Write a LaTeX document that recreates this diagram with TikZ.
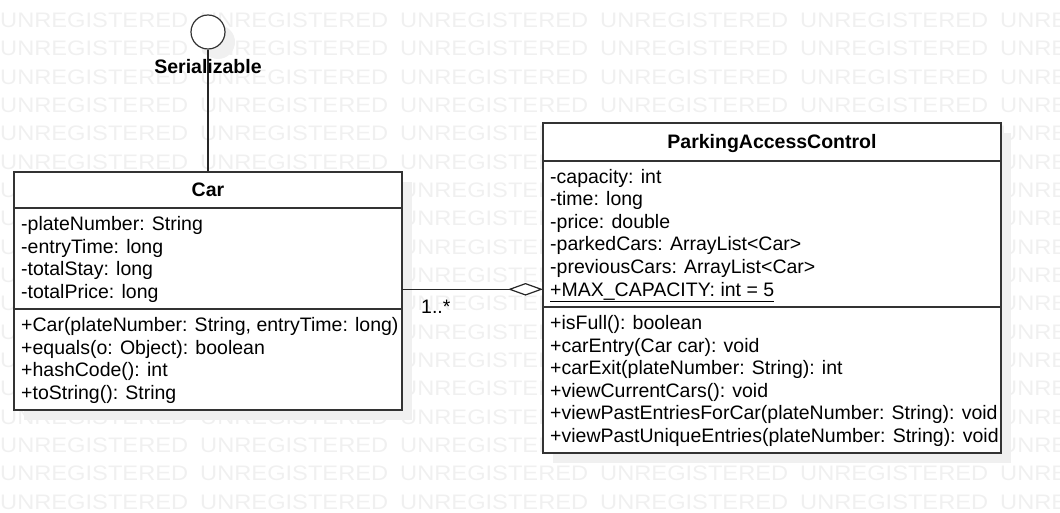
\documentclass[tikz,border=0pt]{standalone}
\usepackage{fontspec}
\setmainfont{Liberation Sans}
\usepackage{tikz}
\usetikzlibrary{arrows.meta,positioning}

\tikzset{
  classbox/.style={draw=black!80, line width=1.6pt, fill=white, inner sep=0pt, outer sep=0pt,
    minimum width=388pt, anchor=north west, text height=14pt, text depth=0pt},
  pacbox/.style={classbox, minimum width=458pt},
  shadowbox/.style={fill=black!6, draw=none},
  member/.style={anchor=base west, inner sep=0pt},
  conn/.style={draw=black!85, line width=1.2pt},
  wmark/.style={text=black!6, anchor=base west, inner sep=0pt, font=\fontsize{21}{21}\selectfont},
}

\begin{document}
\begin{tikzpicture}[x=1pt, y=-1pt, font=\fontsize{19.5}{22.5}\selectfont]

\useasboundingbox (0,0) rectangle (1060,513);

% watermark
\foreach \r in {0,...,17}{
  \foreach \c in {0,...,5}{
    \node[wmark] (wm-\r-\c) at (200*\c, 27.5+28.33*\r) {\scalebox{1.127}[1]{UNREGISTERED}};
  }
}

% shadows
\fill[shadowbox] (218,42) circle (17);
\fill[shadowbox] (24,182) rectangle (412,420);
\fill[shadowbox] (553,133) rectangle (1011,463);

% interface
\node[draw=black!80, line width=1.2pt, fill=white, circle, minimum size=34pt, inner sep=0pt] (iface) at (208,32) {};
\draw[conn] (iface) -- (208,172);
\node[anchor=base, inner sep=0pt] (ifacename) at (208,74) {\bfseries Serializable};

% Car
\node[classbox, minimum height=36pt] (car) at (14,172) {\bfseries Car};
\node[classbox, minimum height=101pt] (carattr) at (car.south west) {};
\node[classbox, minimum height=101pt] (carops) at (carattr.south west) {};

\node[member] (ca1) at (21,230.5) {-plateNumber: String};
\node[member] (ca2) at (21,253) {-entryTime: long};
\node[member] (ca3) at (21,275.5) {-totalStay: long};
\node[member] (ca4) at (21,298) {-totalPrice: long};

\node[member] (co1) at (21,331.5) {+Car(plateNumber: String, entryTime: long)};
\node[member] (co2) at (21,354) {+equals(o: Object): boolean};
\node[member] (co3) at (21,376.5) {+hashCode(): int};
\node[member] (co4) at (21,399) {+toString(): String};

% ParkingAccessControl
\node[pacbox, minimum height=38pt] (pac) at (543,123) {\bfseries ParkingAccessControl};
\node[pacbox, minimum height=146pt] (pacattr) at (pac.south west) {};
\node[pacbox, minimum height=146pt] (pacops) at (pacattr.south west) {};

\node[member] (pa1) at (550,183.5) {-capacity: int};
\node[member] (pa2) at (550,206) {-time: long};
\node[member] (pa3) at (550,228.5) {-price: double};
\node[member] (pa4) at (550,251) {-parkedCars: ArrayList<Car>};
\node[member] (pa5) at (550,273.5) {-previousCars: ArrayList<Car>};
\node[member] (pa6) at (550,296) {\underline{+MAX\_CAPACITY: int = 5}};

\node[member] (po1) at (550,329.5) {+isFull(): boolean};
\node[member] (po2) at (550,352) {+carEntry(Car car): void};
\node[member] (po3) at (550,374.5) {+carExit(plateNumber: String): int};
\node[member] (po4) at (550,397) {+viewCurrentCars(): void};
\node[member] (po5) at (550,419.5) {+viewPastEntriesForCar(plateNumber: String): void};
\node[member] (po6) at (550,442) {+viewPastUniqueEntries(plateNumber: String): void};

% aggregation
\coordinate (aggy) at (0,289.3);
\draw[conn, -{Diamond[fill=white, length=35pt, width=12.6pt]}] (carattr.east |- aggy) -- (pacattr.west |- aggy);
\node[member] (mult) at (421,313) {1..*};

\end{tikzpicture}
\end{document}
